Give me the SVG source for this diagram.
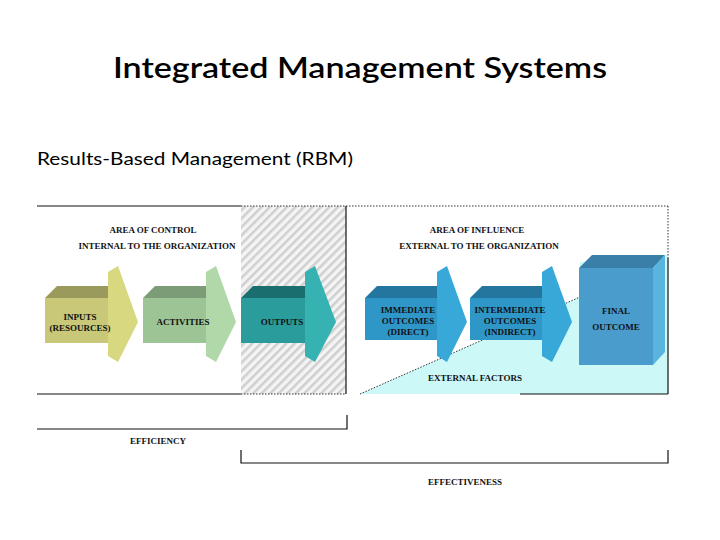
<svg xmlns="http://www.w3.org/2000/svg" width="720" height="540" viewBox="0 0 720 540">
<defs>
<pattern id="hatch" width="6" height="6" patternUnits="userSpaceOnUse" patternTransform="rotate(45)">
<rect width="6" height="6" fill="#f4f4f4"/><rect width="2.5" height="6" fill="#cfcfcf"/>
</pattern>
</defs>
<style>
.t{font-family:"Liberation Serif",serif;font-size:9px;font-weight:bold;fill:#111;text-anchor:middle}
.ln{stroke:#111;stroke-width:1.2;fill:none}
.dot{stroke:#333;stroke-width:1;stroke-dasharray:1.5 1.5;fill:none}
</style>
<rect width="720" height="540" fill="#fff"/>
<text x="360" y="78" font-family="Lato, Open Sans, Liberation Sans, sans-serif" font-size="29" font-weight="600" text-anchor="middle" textLength="494" lengthAdjust="spacingAndGlyphs" fill="#000">Integrated Management Systems</text>
<text x="37" y="165" font-family="Lato, Open Sans, Liberation Sans, sans-serif" font-size="18" textLength="316" lengthAdjust="spacingAndGlyphs" fill="#000">Results-Based Management (RBM)</text>
<g id="regions">
<rect x="241" y="206" width="105" height="188" fill="url(#hatch)"/>
<polygon points="360,394 580,297 580,262 668,255 668,394" fill="#ccf8f8"/>
<polyline class="dot" points="360,394 580,297"/>
<line class="ln" x1="37" y1="206" x2="241" y2="206"/>
<line class="dot" x1="241" y1="206" x2="668" y2="206"/>
<line class="dot" x1="668" y1="206" x2="668" y2="258"/>
<line class="ln" x1="668" y1="258" x2="668" y2="394"/>
<line class="ln" x1="346" y1="206" x2="346" y2="394"/>
<line class="ln" x1="37" y1="394" x2="241" y2="394"/>
<line class="dot" x1="241" y1="394" x2="346" y2="394"/>
<line class="ln" x1="520" y1="394" x2="668" y2="394"/>
</g>
<g id="labels">
<text class="t" x="153" y="233">AREA OF CONTROL</text>
<text class="t" x="157" y="249">INTERNAL TO THE ORGANIZATION</text>
<text class="t" x="477" y="233">AREA OF INFLUENCE</text>
<text class="t" x="479" y="249">EXTERNAL TO THE ORGANIZATION</text>
<text class="t" x="475" y="381">EXTERNAL FACTORS</text>
</g>
<g id="inputs">
<polygon points="45,298 57,286 108,286 108,298" fill="#9a9a5c"/>
<rect x="45" y="298" width="63" height="45" fill="#c8c878"/>
<polygon points="108,272 118,266 138,322 118,362 108,356" fill="#d8d880"/>
<text class="t" x="80" y="320">INPUTS</text><text class="t" x="80" y="331">(RESOURCES)</text>
</g>
<g id="activities">
<polygon points="143,298 155,286 206,286 206,298" fill="#7c9c78"/>
<rect x="143" y="298" width="63" height="45" fill="#9cc494"/>
<polygon points="206,272 216,266 236,322 216,362 206,356" fill="#b0d8a8"/>
<text class="t" x="183" y="325">ACTIVITIES</text>
</g>
<g id="outputs">
<polygon points="241,298 253,286 305,286 305,298" fill="#1a6e6e"/>
<rect x="241" y="298" width="64" height="45" fill="#2a9c9c"/>
<polygon points="305,272 315,266 336,322 315,362 305,356" fill="#36b2b2"/>
<text class="t" x="282" y="325">OUTPUTS</text>
</g>
<g id="immediate">
<polygon points="365,298 377,286 437,286 437,298" fill="#24769e"/>
<rect x="365" y="298" width="72" height="42" fill="#2f96c8"/>
<polygon points="437,272 447,266 467,322 447,362 437,356" fill="#38a8d8"/>
<text class="t" x="408" y="313">IMMEDIATE</text><text class="t" x="408" y="324">OUTCOMES</text><text class="t" x="408" y="335">(DIRECT)</text>
</g>
<g id="intermediate">
<polygon points="470,298 482,286 542,286 542,298" fill="#24769e"/>
<rect x="470" y="298" width="72" height="42" fill="#2f96c8"/>
<polygon points="542,272 552,266 572,322 552,362 542,356" fill="#38a8d8"/>
<text class="t" x="510" y="313">INTERMEDIATE</text><text class="t" x="510" y="324">OUTCOMES</text><text class="t" x="510" y="335">(INDIRECT)</text>
</g>
<g id="final">
<polygon points="579,268 592,255 665,255 653,268" fill="#3a7fa8"/>
<rect x="579" y="268" width="74" height="97" fill="#4a9ccc"/>
<polygon points="653,268 665,255 665,352 653,365" fill="#5ab4e0"/>
<text class="t" x="616" y="314" font-size="12" font-weight="normal">FINAL</text><text class="t" x="616" y="330" font-size="12" font-weight="normal">OUTCOME</text>
</g>
<g id="connectors">
<polyline class="ln" points="37,429 347,429 347,415"/>
<polyline class="ln" points="241,450 241,463 668,463 668,450"/>
</g>
<text class="t" x="158" y="444">EFFICIENCY</text>
<text class="t" x="465" y="485">EFFECTIVENESS</text>
</svg>
